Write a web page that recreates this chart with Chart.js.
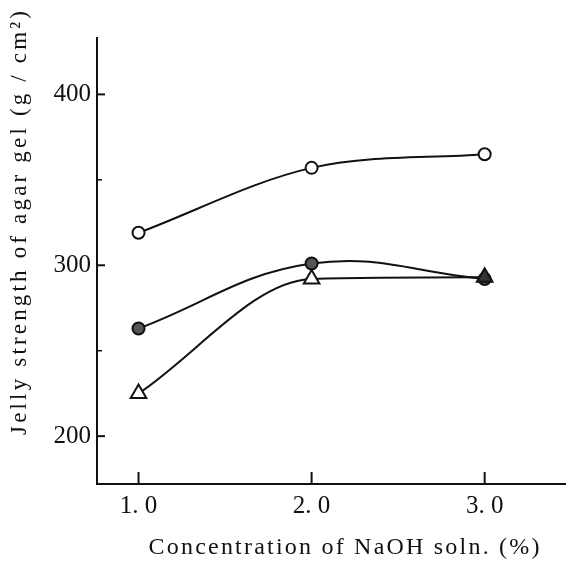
<!DOCTYPE html>
<html>
<head>
<meta charset="utf-8">
<script src="https://cdn.jsdelivr.net/npm/chart.js@4.4.1/dist/chart.umd.min.js"></script>
<style>
    html, body { margin: 0; padding: 0; background: #fff; }
    #wrap { width: 566px; height: 565px; position: relative; }
</style>
</head>
<body>
<div id="wrap"><canvas id="chart"></canvas></div>
<script>
// NaOH concentration (%)
const concentrations = [1.0, 2.0, 3.0];
// jelly strength (g/cm2)
const openCircle = [319, 357, 365];
const filledCircle = [263, 301, 292];
const openTriangle = [225, 292, 293];

const xTicks = [1.0, 2.0, 3.0];
const yTicks = [200, 300, 400];
const yMinorTicks = [250, 350];

const xTitle = 'Concentration of NaOH soln. (%)';
const yTitle = 'Jelly strength of agar gel (g / cm\u00B2)';

const FONT = '"Liberation Serif", "DejaVu Serif", serif';

function toPoints(values) {
    return concentrations.map((x, i) => ({ x: x, y: values[i] }));
}

// spread text so it covers a given width
function spreadText(ctx, text, width, cx, cy) {
    ctx.letterSpacing = '0px';
    const w = ctx.measureText(text).width;
    const gap = Math.max(0, (width - w) / (text.length - 1));
    ctx.letterSpacing = gap + 'px';
    ctx.textAlign = 'left';
    ctx.fillText(text, cx - width / 2, cy);
}

// inward tick marks and the two axis titles
const axisExtras = {
    id: 'axisExtras',
    afterDraw(chart) {
        const ctx = chart.ctx;
        const x = chart.scales.x;
        const y = chart.scales.y;
        const area = chart.chartArea;

        ctx.save();
        ctx.strokeStyle = '#111';
        ctx.lineWidth = 2;
        xTicks.forEach(v => {
            const px = x.getPixelForValue(v);
            ctx.beginPath();
            ctx.moveTo(px, area.bottom);
            ctx.lineTo(px, area.bottom - 12);
            ctx.stroke();
        });
        yTicks.forEach(v => {
            const py = y.getPixelForValue(v);
            ctx.beginPath();
            ctx.moveTo(area.left, py);
            ctx.lineTo(area.left + 8, py);
            ctx.stroke();
        });
        ctx.lineWidth = 1.5;
        yMinorTicks.forEach(v => {
            const py = y.getPixelForValue(v);
            ctx.beginPath();
            ctx.moveTo(area.left, py);
            ctx.lineTo(area.left + 5, py);
            ctx.stroke();
        });

        ctx.fillStyle = '#111';
        ctx.textBaseline = 'middle';
        ctx.font = '24px ' + FONT;
        spreadText(ctx, xTitle, 391, 344, 548);

        ctx.translate(20, 223);
        ctx.rotate(-Math.PI / 2);
        ctx.font = '23px ' + FONT;
        spreadText(ctx, yTitle, 424, 0, 0);
        ctx.restore();
    }
};

new Chart(document.getElementById('chart'), {
    type: 'line',
    data: {
        datasets: [
            {
                label: 'open circle',
                data: toPoints(openCircle),
                borderColor: '#111',
                borderWidth: 2,
                tension: 0.4,
                cubicInterpolationMode: 'monotone',
                pointStyle: 'circle',
                pointRadius: 6,
                pointBorderWidth: 2,
                pointBackgroundColor: '#fff',
                pointBorderColor: '#111',
                order: 2
            },
            {
                label: 'filled circle',
                data: toPoints(filledCircle),
                borderColor: '#111',
                borderWidth: 2,
                tension: 0.4,
                pointStyle: 'circle',
                pointRadius: 6,
                pointBorderWidth: 2,
                pointBackgroundColor: '#555',
                pointBorderColor: '#111',
                order: 1
            },
            {
                label: 'triangle',
                data: toPoints(openTriangle),
                borderColor: '#111',
                borderWidth: 2,
                tension: 0.4,
                cubicInterpolationMode: 'monotone',
                pointStyle: 'triangle',
                pointRadius: 9,
                pointBorderWidth: 2,
                pointBackgroundColor: ['#fff', '#fff', '#333'],
                pointBorderColor: '#111',
                order: 0
            }
        ]
    },
    options: {
        responsive: true,
        maintainAspectRatio: false,
        animation: false,
        layout: {
            autoPadding: false,
            padding: { top: 38, right: 0, left: 0, bottom: 0 }
        },
        plugins: {
            legend: { display: false },
            tooltip: { enabled: false }
        },
        scales: {
            x: {
                type: 'linear',
                min: 0.76,
                max: 3.47,
                afterBuildTicks: scale => {
                    scale.ticks = xTicks.map(v => ({ value: v }));
                },
                afterFit: scale => {
                    scale.height = 81;
                    scale.paddingLeft = 0;
                    scale.paddingRight = 0;
                },
                grid: { display: false, drawTicks: false },
                border: { display: true, color: '#111', width: 2 },
                ticks: {
                    padding: 7,
                    maxRotation: 0,
                    color: '#111',
                    font: { family: FONT, size: 25 },
                    callback: v => v.toFixed(1).replace('.', '. ')
                }
            },
            y: {
                min: 172,
                max: 433,
                afterBuildTicks: scale => {
                    scale.ticks = yTicks.map(v => ({ value: v }));
                },
                afterFit: scale => {
                    scale.width = 97;
                    scale.paddingTop = 0;
                    scale.paddingBottom = 0;
                },
                grid: { display: false, drawTicks: false },
                border: { display: true, color: '#111', width: 2 },
                ticks: {
                    padding: 6,
                    color: '#111',
                    font: { family: FONT, size: 25 }
                }
            }
        }
    },
    plugins: [axisExtras]
});
</script>
</body>
</html>
